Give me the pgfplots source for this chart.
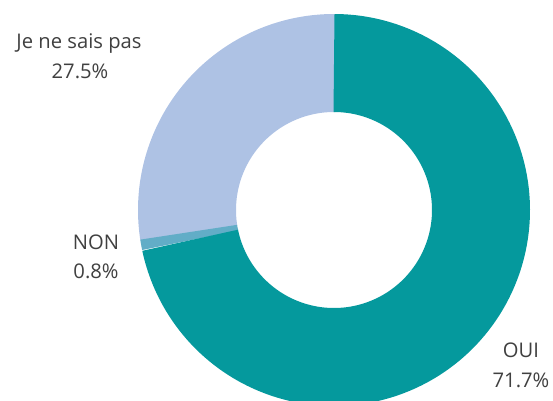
\documentclass[border=0pt]{standalone}
\usepackage{pgfplots}
\pgfplotsset{compat=1.18}
\usepackage{fontspec}
\setmainfont{Open Sans}
\definecolor{cOui}{HTML}{05999D}
\definecolor{cNon}{HTML}{62ADC7}
\definecolor{cJe}{HTML}{AEC2E4}
\definecolor{txt}{HTML}{404040}
% data (percent)
\def\vOui{71.7}
\def\vNon{0.8}
\def\vJe{27.5}
\pgfmathsetmacro{\aA}{90}
\pgfmathsetmacro{\aB}{\aA-3.6*\vOui}
\pgfmathsetmacro{\aC}{\aB-3.6*\vNon}
\pgfmathsetmacro{\aD}{\aC-3.6*\vJe-0.5}
\pgfmathsetmacro{\aCx}{\aC-0.3}
\begin{document}
\begin{tikzpicture}
\begin{axis}[
  x=1pt, y=1pt,
  xmin=-334, xmax=219, ymin=-190, ymax=210,
  scale only axis, hide axis, clip=true,
]
\draw[draw=none] (rel axis cs:0,0) rectangle (rel axis cs:1,1);
\addplot[draw=cJe, line width=98pt, line cap=butt, line join=round, domain=\aD:\aC, samples=120, variable=\t] ({147*cos(\t)},{147*sin(\t)});
\addplot[draw=cNon, line width=98pt, line cap=butt, line join=round, domain=\aCx:\aB, samples=10, variable=\t] ({147*cos(\t)},{147*sin(\t)});
\addplot[draw=cOui, line width=98pt, line cap=butt, line join=round, domain=\aB:\aA, samples=240, variable=\t] ({147*cos(\t)},{147*sin(\t)});
\begin{scope}[every node/.style={anchor=base, text=txt, font=\fontsize{20.2}{24}\selectfont, inner sep=0pt}]
\node at (axis cs:-255,162) {Je ne sais pas};
\node at (axis cs:-254,132) {27.5\%};
\node at (axis cs:-238,-39) {NON};
\node at (axis cs:-238,-68) {0.8\%};
\node at (axis cs:187,-147) {OUI};
\node at (axis cs:187,-177) {71.7\%};
\end{scope}
\end{axis}
\end{tikzpicture}
\end{document}
